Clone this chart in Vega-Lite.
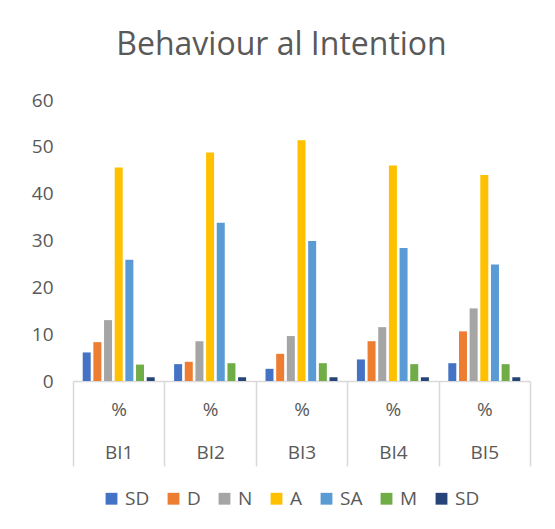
{
  "$schema": "https://vega.github.io/schema/vega-lite/v6.json",
  "width": 457,
  "height": 281,
  "autosize": {"type": "none"},
  "padding": {"left": 73, "top": 100, "right": 25, "bottom": 148},
  "background": "white",
  "title": {
    "text": "Behaviour al Intention",
    "font": "Open Sans",
    "fontSize": 32,
    "fontWeight": "normal",
    "color": "#595959",
    "anchor": "middle",
    "dx": -20,
    "offset": 29
  },
  "data": {
    "values": [
      {"item": "BI1", "series": "SD1", "value": 6.1},
      {"item": "BI1", "series": "D", "value": 8.3},
      {"item": "BI1", "series": "N", "value": 13.0},
      {"item": "BI1", "series": "A", "value": 45.6},
      {"item": "BI1", "series": "SA", "value": 25.9},
      {"item": "BI1", "series": "M", "value": 3.5},
      {"item": "BI1", "series": "SD2", "value": 0.8},
      {"item": "BI2", "series": "SD1", "value": 3.6},
      {"item": "BI2", "series": "D", "value": 4.1},
      {"item": "BI2", "series": "N", "value": 8.5},
      {"item": "BI2", "series": "A", "value": 48.8},
      {"item": "BI2", "series": "SA", "value": 33.8},
      {"item": "BI2", "series": "M", "value": 3.8},
      {"item": "BI2", "series": "SD2", "value": 0.8},
      {"item": "BI3", "series": "SD1", "value": 2.6},
      {"item": "BI3", "series": "D", "value": 5.8},
      {"item": "BI3", "series": "N", "value": 9.6},
      {"item": "BI3", "series": "A", "value": 51.4},
      {"item": "BI3", "series": "SA", "value": 29.9},
      {"item": "BI3", "series": "M", "value": 3.8},
      {"item": "BI3", "series": "SD2", "value": 0.8},
      {"item": "BI4", "series": "SD1", "value": 4.6},
      {"item": "BI4", "series": "D", "value": 8.5},
      {"item": "BI4", "series": "N", "value": 11.5},
      {"item": "BI4", "series": "A", "value": 46.0},
      {"item": "BI4", "series": "SA", "value": 28.4},
      {"item": "BI4", "series": "M", "value": 3.6},
      {"item": "BI4", "series": "SD2", "value": 0.8},
      {"item": "BI5", "series": "SD1", "value": 3.8},
      {"item": "BI5", "series": "D", "value": 10.6},
      {"item": "BI5", "series": "N", "value": 15.5},
      {"item": "BI5", "series": "A", "value": 44.0},
      {"item": "BI5", "series": "SA", "value": 24.9},
      {"item": "BI5", "series": "M", "value": 3.6},
      {"item": "BI5", "series": "SD2", "value": 0.8}
    ]
  },
  "mark": {"type": "bar"},
  "encoding": {
    "x": {
      "field": "item",
      "type": "nominal",
      "scale": {"paddingInner": 0, "paddingOuter": 0},
      "axis": {
        "title": null,
        "labelAngle": 0,
        "labelExpr": "datum.label ? ['%', datum.label] : ''",
        "labelLineHeight": 43,
        "labelFont": "Open Sans",
        "labelFontSize": 19,
        "labelColor": "#595959",
        "labelBaseline": "middle",
        "labelPadding": -57,
        "tickBand": "extent",
        "tickSize": 85,
        "tickColor": "#d9d9d9",
        "tickWidth": 1.5,
        "domainColor": "#d9d9d9",
        "domainWidth": 1.5
      }
    },
    "xOffset": {
      "field": "series",
      "type": "nominal",
      "sort": ["SD1", "D", "N", "A", "SA", "M", "SD2"],
      "scale": {"paddingInner": 0.25, "paddingOuter": 0.91}
    },
    "y": {
      "field": "value",
      "type": "quantitative",
      "scale": {"domain": [0, 60], "nice": false},
      "axis": {
        "title": null,
        "values": [0, 10, 20, 30, 40, 50, 60],
        "grid": false,
        "domain": false,
        "ticks": false,
        "labelPadding": 20,
        "labelFont": "Open Sans",
        "labelFontSize": 19,
        "labelColor": "#595959"
      }
    },
    "color": {
      "field": "series",
      "type": "nominal",
      "sort": ["SD1", "D", "N", "A", "SA", "M", "SD2"],
      "scale": {
        "domain": ["SD1", "D", "N", "A", "SA", "M", "SD2"],
        "range": ["#4472C4", "#ED7D31", "#A5A5A5", "#FFC000", "#5B9BD5", "#70AD47", "#264478"]
      },
      "legend": {
        "title": null,
        "orient": "none",
        "direction": "horizontal",
        "columns": 7,
        "legendX": 29,
        "legendY": 389,
        "labelExpr": "datum.label == 'SD1' || datum.label == 'SD2' ? 'SD' : datum.label",
        "symbolType": "square",
        "symbolSize": 140,
        "symbolStrokeWidth": 0,
        "labelFont": "Open Sans",
        "labelFontSize": 19,
        "labelColor": "#595959",
        "columnPadding": 14,
        "labelOffset": 4
      }
    }
  },
  "config": {
    "view": {"stroke": null}
  }
}
